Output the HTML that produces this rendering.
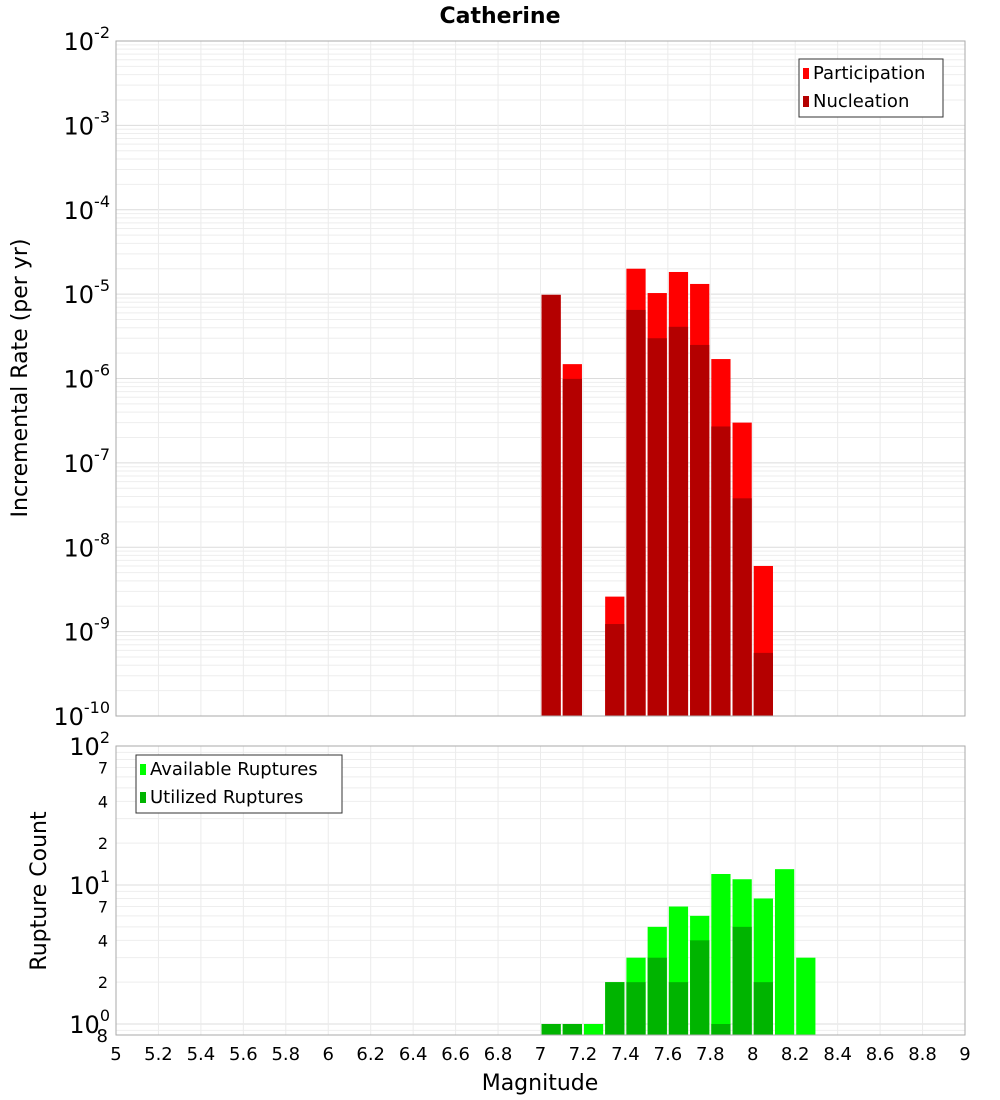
<!DOCTYPE html>
<html><head><meta charset="utf-8"><style>
html,body{margin:0;padding:0;background:#fff}
svg{display:block;font-family:"DejaVu Sans","Liberation Sans",sans-serif}
</style></head><body>
<svg id="c" width="1000" height="1100" viewBox="0 0 1000 1100" xmlns="http://www.w3.org/2000/svg">
<text x="500" y="23" text-anchor="middle" font-size="22" font-weight="bold">Catherine</text>
<g id="topPlot"></g>
<g id="botPlot"></g>
<text transform="translate(27,378) rotate(-90)" text-anchor="middle" font-size="22">Incremental Rate (per yr)</text>
<text transform="translate(46,891) rotate(-90)" text-anchor="middle" font-size="22">Rupture Count</text>
<text x="540" y="1090" text-anchor="middle" font-size="22">Magnitude</text>
</svg>
<script>
const mags=[7.0,7.1,7.2,7.3,7.4,7.5,7.6,7.7,7.8,7.9,8.0,8.1,8.2];
const participation=[9.8e-6,1.48e-6,0,2.6e-9,2.0e-5,1.03e-5,1.83e-5,1.32e-5,1.7e-6,3.0e-7,6.0e-9,0,0];
const nucleation=[9.8e-6,9.9e-7,0,1.23e-9,6.5e-6,3.0e-6,4.1e-6,2.5e-6,2.7e-7,3.8e-8,5.6e-10,0,0];
const available=[1,1,1,2,3,5,7,6,12,11,8,13,3];
const utilized=[1,1,0,2,2,3,2,4,1,5,2,0,0];
const xTicks=[5,5.2,5.4,5.6,5.8,6,6.2,6.4,6.6,6.8,7,7.2,7.4,7.6,7.8,8,8.2,8.4,8.6,8.8,9];
const topExps=[-2,-3,-4,-5,-6,-7,-8,-9,-10];

const NS="http://www.w3.org/2000/svg";
const PL=116,PR=965;
const xS=m=>PL+(m-5)/4*(PR-PL);
const T0=41,T1=716;
const yTop=v=>T0+(-2-Math.log10(v))*(T1-T0)/8;
const B0=746,B1=1035,bDec=139;
const yBot=v=>Math.min(B1,B0+(2-Math.log10(v))*bDec);
function el(p,tag,a){const e=document.createElementNS(NS,tag);for(const k in a)e.setAttribute(k,a[k]);p.appendChild(e);return e;}
const topG=document.getElementById('topPlot'),botG=document.getElementById('botPlot');

for(let d=-10;d<-2;d++){for(let k=1;k<10;k++){const y=yTop(k*Math.pow(10,d));const g=el(topG,'line',{x1:PL,x2:PR,y1:y,y2:y,stroke:k==1?'#dcdcdc':'#eeeeee','stroke-width':1});}}
for(let d=-1;d<2;d++){for(let k=1;k<10;k++){const v=k*Math.pow(10,d);const y=B0+(2-Math.log10(v))*bDec;if(y>B1)continue;const g=el(botG,'line',{x1:PL,x2:PR,y1:y,y2:y,stroke:k==1?'#dcdcdc':'#eeeeee','stroke-width':1});}}
xTicks.forEach(m=>{const X=xS(m);[[T0,T1,topG],[B0,B1,botG]].forEach(([a,b,p])=>{const g=el(p,'line',{x1:X,x2:X,y1:a,y2:b,stroke:'#ebebeb'});});});

mags.forEach((m,i)=>{const x0=xS(m)+1,w=xS(m+0.1)-xS(m)-2;
 if(participation[i]>0){const r=el(topG,'rect',{x:x0,y:yTop(participation[i]),width:w,height:T1-yTop(participation[i]),fill:'#ff0000'});}
 if(nucleation[i]>0){const r=el(topG,'rect',{x:x0,y:yTop(nucleation[i]),width:w,height:T1-yTop(nucleation[i]),fill:'#b40000'});}
 if(available[i]>0){const r=el(botG,'rect',{x:x0,y:yBot(available[i]),width:w,height:B1-yBot(available[i]),fill:'#00ff00'});}
 if(utilized[i]>0){const r=el(botG,'rect',{x:x0,y:yBot(utilized[i]),width:w,height:B1-yBot(utilized[i]),fill:'#00b400'});}
});
[[T0,T1,topG],[B0,B1,botG]].forEach(([a,b,p])=>{const r=el(p,'rect',{x:PL,y:a,width:PR-PL,height:b-a,fill:'none',stroke:'#aaaaaa'});});

topExps.forEach(e=>{const y=yTop(Math.pow(10,e));const t=el(topG,'text',{x:110,y:y+9,'text-anchor':'end','font-size':24});
 const a=document.createElementNS(NS,'tspan');a.textContent='10';t.appendChild(a);const s=document.createElementNS(NS,'tspan');s.setAttribute('dy','-12');s.setAttribute('font-size','16');s.textContent=String(e);t.appendChild(s);});
[[100,'2'],[10,'1'],[1,'0']].forEach(([v,e])=>{const y=B0+(2-Math.log10(v))*bDec;const t=el(botG,'text',{x:110,y:y+9,'text-anchor':'end','font-size':24});
 const a=document.createElementNS(NS,'tspan');a.textContent='10';t.appendChild(a);const s=document.createElementNS(NS,'tspan');s.setAttribute('dy','-12');s.setAttribute('font-size','16');s.textContent=e;t.appendChild(s);});
[[70,'7'],[40,'4'],[20,'2'],[7,'7'],[4,'4'],[2,'2']].forEach(([v,s])=>{const y=B0+(2-Math.log10(v))*bDec;const t=el(botG,'text',{x:108,y:y+6,'text-anchor':'end','font-size':16});t.textContent=s;});
{const t=el(botG,'text',{x:108,y:1042,'text-anchor':'end','font-size':18});t.textContent='8';}
xTicks.forEach(m=>{const t=el(botG,'text',{x:xS(m),y:1060,'text-anchor':'middle','font-size':18});t.textContent=String(m);});

function legend(p,x0,y0,w,items,name){const g=el(p,'g',{});
 el(g,'rect',{x:x0,y:y0,width:w,height:58,fill:'#fff',stroke:'#333'});
 items.forEach(([c,lab],i)=>{const yy=y0+14+i*28;const r=el(g,'rect',{x:x0+4,y:yy-5,width:6,height:11,fill:c});
 const t=el(g,'text',{x:x0+14,y:yy+6,'font-size':18});t.textContent=lab;});}
legend(topG,799,59,144,[['#ff0000','Participation'],['#b40000','Nucleation']],'rate-legend');
legend(botG,136,755,206,[['#00ff00','Available Ruptures'],['#00b400','Utilized Ruptures']],'count-legend');
</script>
</body></html>
